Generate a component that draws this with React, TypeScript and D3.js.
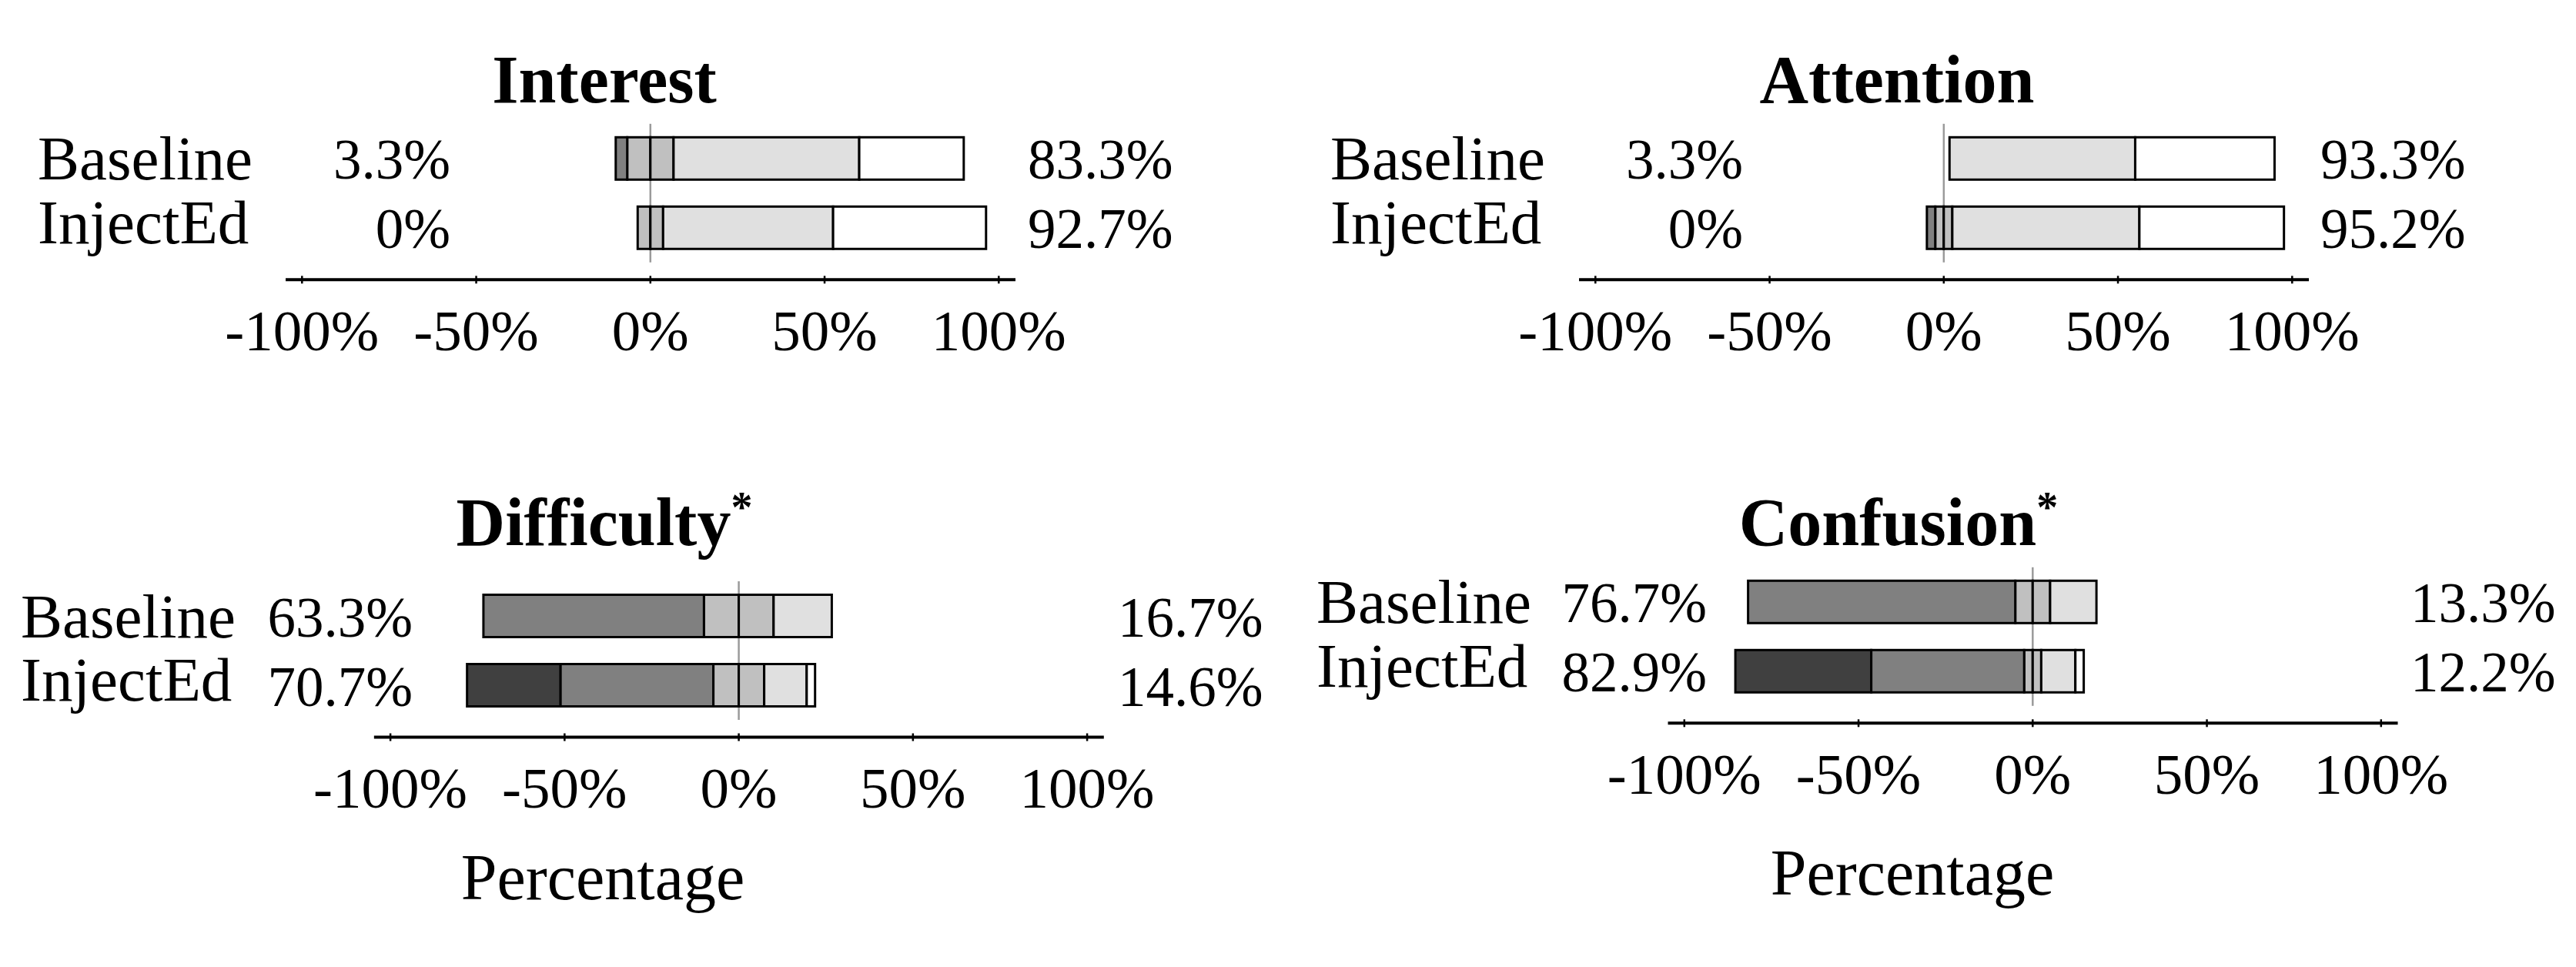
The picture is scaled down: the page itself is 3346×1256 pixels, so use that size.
import React from "react";
import * as d3 from "d3";

// ---------- data ----------
const levels = ["Strongly disagree", "Disagree", "Neutral", "Agree", "Strongly agree"];
const levelColors = ["#404040", "#808080", "#c0c0c0", "#e0e0e0", "#ffffff"];
const groups = ["Baseline", "InjectEd"];
const measures = ["Interest", "Attention", "Difficulty", "Confusion"];
const significant = [false, false, true, true];

// percentages per level: [SD, D, N, A, SA]
const interestBaseline = [0, 3.3, 13.3, 53.3, 30.0];
const interestInjectEd = [0, 0, 7.3, 48.8, 43.9];
const attentionBaseline = [0, 0, 3.3, 53.3, 40.0];
const attentionInjectEd = [0, 2.4, 4.9, 53.7, 41.5];
const difficultyBaseline = [0, 63.3, 20.0, 16.7, 0];
const difficultyInjectEd = [26.8, 43.9, 14.6, 12.2, 2.4];
const confusionBaseline = [0, 76.7, 10.0, 13.3, 0];
const confusionInjectEd = [39.0, 43.9, 4.9, 9.8, 2.4];

// whether the neutral segment is drawn (it is missing in the Attention/Baseline row of the original)
const neutralDrawn = [
  [true, true],
  [false, true],
  [true, true],
  [true, true],
];

const lowLabels = [
  ["3.3%", "0%"],
  ["3.3%", "0%"],
  ["63.3%", "70.7%"],
  ["76.7%", "82.9%"],
];
const highLabels = [
  ["83.3%", "92.7%"],
  ["93.3%", "95.2%"],
  ["16.7%", "14.6%"],
  ["13.3%", "12.2%"],
];

const tickValues = [-100, -50, 0, 50, 100];
const axisTitle = "Percentage";

const values = [
  [interestBaseline, interestInjectEd],
  [attentionBaseline, attentionInjectEd],
  [difficultyBaseline, difficultyInjectEd],
  [confusionBaseline, confusionInjectEd],
];

// ---------- layout ----------
const W = 3346;
const H = 1256;
const FONT = "'Liberation Serif', 'Times New Roman', serif";
const HALF_RANGE_PX = 452.5; // pixels for 100%

const layouts = [
  { zeroX: 844.8, bandTop: 160.8, titleX: 785, titleY: 133, rowLabelX: 49, lowX: 585, highX: 1335, showAxisTitle: false, axisTitleX: 0, axisTitleY: 0 },
  { zeroX: 2524.8, bandTop: 160.8, titleX: 2464, titleY: 133, rowLabelX: 1728, lowX: 2264, highX: 3014, showAxisTitle: false, axisTitleX: 0, axisTitleY: 0 },
  { zeroX: 959.6, bandTop: 755, titleX: 785, titleY: 708, rowLabelX: 27, lowX: 536, highX: 1452, showAxisTitle: true, axisTitleX: 783, axisTitleY: 1168 },
  { zeroX: 2640.3, bandTop: 736.8, titleX: 2466, titleY: 708, rowLabelX: 1710, lowX: 2217, highX: 3131, showAxisTitle: true, axisTitleX: 2484, axisTitleY: 1162 },
];

type Seg = { level: number; x0: number; x1: number };

function stackRow(v: number[], drawNeutral: boolean): Seg[] {
  const segs: Seg[] = [];
  const n = v[2];
  let left = -n / 2;
  if (drawNeutral && n > 0) segs.push({ level: 2, x0: -n / 2, x1: 0 });
  for (const lv of [1, 0]) {
    if (v[lv] > 0) {
      segs.push({ level: lv, x0: left - v[lv], x1: left });
      left -= v[lv];
    }
  }
  let right = n / 2;
  if (drawNeutral && n > 0) segs.push({ level: 2, x0: 0, x1: n / 2 });
  for (const lv of [3, 4]) {
    if (v[lv] > 0) {
      segs.push({ level: lv, x0: right, x1: right + v[lv] });
      right += v[lv];
    }
  }
  return segs;
}

function Panel({ idx }: { idx: number }) {
  const L = layouts[idx];
  const x = d3.scaleLinear().domain([-100, 100]).range([L.zeroX - HALF_RANGE_PX, L.zeroX + HALF_RANGE_PX]);
  const y = d3
    .scaleBand<string>()
    .domain(groups)
    .range([L.bandTop, L.bandTop + 180])
    .paddingInner(35 / 90)
    .paddingOuter(17.5 / 90);
  const bw = y.bandwidth();
  const axisY = L.bandTop + 180 + 22.5;
  const tickLabelY = axisY + 91.7;

  return (
    <g>
      <text x={L.titleX} y={L.titleY} textAnchor="middle" fontFamily={FONT} fontWeight="bold" fontSize={88} fill="#000">
        {measures[idx]}
        {significant[idx] ? (
          <tspan fontSize={56} dy={-30}>*</tspan>
        ) : null}
      </text>

      <line x1={x(0)} x2={x(0)} y1={L.bandTop} y2={L.bandTop + 180} stroke="#9a9a9a" strokeWidth={2.5} />

      {groups.map((g, gi) => {
        const segs = stackRow(values[idx][gi], neutralDrawn[idx][gi]);
        const top = y(g) as number;
        return (
          <g key={g}>
            {segs.map((s, si) => (
              <rect
                key={si}
                x={x(s.x0)}
                y={top}
                width={x(s.x1) - x(s.x0)}
                height={bw}
                fill={levelColors[s.level]}
                stroke="#000"
                strokeWidth={3}
              />
            ))}
            <text x={L.rowLabelX} y={top + bw - (gi === 1 ? 7.5 : 0)} fontFamily={FONT} fontSize={81} fill="#000">
              {g}
            </text>
            <text x={L.lowX} y={top + bw - 1} textAnchor="end" fontFamily={FONT} fontSize={73} fill="#000">
              {lowLabels[idx][gi]}
            </text>
            <text x={L.highX} y={top + bw - 1} textAnchor="start" fontFamily={FONT} fontSize={73} fill="#000">
              {highLabels[idx][gi]}
            </text>
          </g>
        );
      })}

      <line x1={x(-104.7)} x2={x(104.8)} y1={axisY} y2={axisY} stroke="#000" strokeWidth={4} />
      {tickValues.map((t) => (
        <g key={t}>
          <line x1={x(t)} x2={x(t)} y1={axisY - 5} y2={axisY + 5} stroke="#000" strokeWidth={2.5} />
          <text x={x(t)} y={tickLabelY} textAnchor="middle" fontFamily={FONT} fontSize={75} fill="#000">
            {`${t}%`}
          </text>
        </g>
      ))}
      {L.showAxisTitle ? (
        <text x={L.axisTitleX} y={L.axisTitleY} textAnchor="middle" fontFamily={FONT} fontSize={84} fill="#000">
          {axisTitle}
        </text>
      ) : null}
    </g>
  );
}

export default function App() {
  return (
    <div style={{ position: "fixed", left: 0, top: 0, width: W, height: H, background: "#fff" }}>
      <svg width={W} height={H} viewBox={`0 0 ${W} ${H}`} style={{ display: "block" }}>
        <rect x={0} y={0} width={W} height={H} fill="#fff" />
        {measures.map((m, i) => (
          <Panel key={m} idx={i} />
        ))}
      </svg>
    </div>
  );
}
